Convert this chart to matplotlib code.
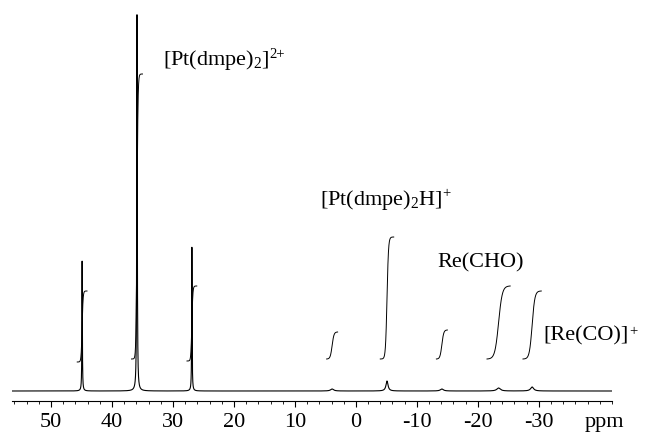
import numpy as np
import matplotlib
matplotlib.use("Agg")
import matplotlib.pyplot as plt
from matplotlib.ticker import MultipleLocator
import matplotlib.transforms as mtransforms

plt.rcParams['font.family'] = ['Liberation Serif', 'DejaVu Serif']
plt.rcParams['mathtext.fontset'] = 'custom'
plt.rcParams['mathtext.rm'] = 'Liberation Serif'
plt.rcParams['mathtext.it'] = 'Liberation Serif:italic'
plt.rcParams['axes.unicode_minus'] = False

# peaks: shift (ppm), height, half width (ppm)
peak_ppm = [44.9, 35.9, 26.9, 3.9, -5.1, -14.1, -23.4, -28.9]
peak_height = [130, 377, 144, 2, 10, 2, 3, 4]
peak_hw = [0.04, 0.05, 0.04, 0.3, 0.2, 0.3, 0.35, 0.3]

# integral traces: centre, start level, rise, half span, sharpness
int_ppm = [44.9, 35.9, 26.9, 3.9, -5.1, -14.1, -23.4, -28.9]
int_start = [29, 32, 30, 32, 32, 32, 32, 32]
int_rise = [71, 285, 75, 27, 122, 29, 73, 68]
int_span = [0.8, 0.9, 0.8, 0.9, 1.1, 0.9, 1.9, 1.5]
int_w = [0.08, 0.08, 0.08, 0.15, 0.12, 0.15, 0.3, 0.22]

# species labels and their charges (written as superscript)
labels = [r'$\mathrm{[Pt(dmpe)_2]}$', r'$\mathrm{[Pt(dmpe)_2H]}$', 'Re(CHO)', '[Re(CO)]']
charges = ['2+', '+', '', '+']
label_ppm = [31.6, 5.9, -13.4, -30.8]
label_y = [327, 187, 125, 52]

fig = plt.figure(figsize=(6.45, 4.35), dpi=100)
ax = fig.add_axes([12 / 645, 33 / 435, 600 / 645, 402 / 435])

ppm = np.linspace(56.4, -42.0, 20000)
spec = np.zeros_like(ppm)
for c, h, w in zip(peak_ppm, peak_height, peak_hw):
    spec += h * w**2 / ((ppm - c)**2 + w**2)
ax.plot(ppm, spec, color='black', lw=0.8)

for c, b, r, s, w in zip(int_ppm, int_start, int_rise, int_span, int_w):
    x = np.linspace(c + s, c - s, 200)
    f = 1 / (1 + np.exp(-(c - x) / w))
    f = (f - f[0]) / (f[-1] - f[0])
    ax.plot(x, b + r * f, color='black', lw=0.7)

for t, q, xp, yp in zip(labels, charges, label_ppm, label_y):
    txt = ax.text(xp, yp, t, fontsize=16, ha='left', va='baseline')
    if q:
        ax.annotate(q, xy=(1.0, 1.02), xycoords=txt, fontsize=10.5,
                    ha='left', va='top')

ax.set_xlim(56.4, -42.0)
ax.set_ylim(-10, 392)
ax.xaxis.set_minor_locator(MultipleLocator(2))
ax.set_xticks([50, 40, 30, 20, 10, 0, -10, -20, -30])
ax.tick_params(axis='x', which='major', length=4, width=0.8, labelsize=16, pad=4)
ax.tick_params(axis='x', which='minor', length=2, width=0.6)
ax.set_yticks([])
for side in ['top', 'left', 'right']:
    ax.spines[side].set_visible(False)
ax.spines['bottom'].set_linewidth(0.8)

trans = mtransforms.blended_transform_factory(ax.transData, ax.transAxes)
ax.text(-37.5, -0.062, 'ppm', fontsize=16, ha='left', va='baseline', transform=trans)

fig.savefig('out.png', dpi=100)
